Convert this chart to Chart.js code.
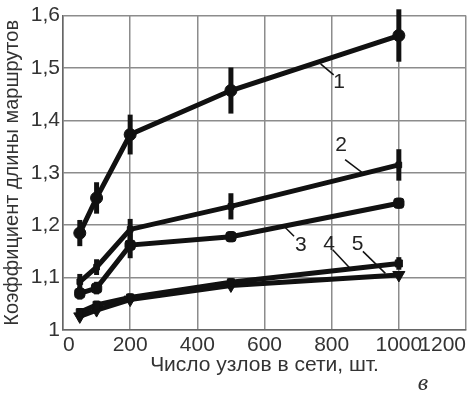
<!DOCTYPE html>
<html>
<head>
<meta charset="utf-8">
<script src="https://cdn.jsdelivr.net/npm/chart.js@4"></script>
<style>
  html, body { margin: 0; padding: 0; background: #fff; }
  #wrap { width: 474px; height: 400px; }
</style>
</head>
<body>
<div id="wrap"><canvas id="chart" width="474" height="400"></canvas></div>
<script>
// число узлов
const nodes = [50, 100, 200, 500, 1000];

// коэффициент длины маршрутов по кривым 1..5
const curve1 = [1.185, 1.252, 1.373, 1.457, 1.562];
const curve2 = [1.092, 1.120, 1.192, 1.236, 1.315];
const curve3 = [1.070, 1.080, 1.162, 1.178, 1.242];
const curve4 = [1.034, 1.048, 1.062, 1.091, 1.127];
const curve5 = [1.026, 1.038, 1.058, 1.085, 1.105];

// разброс (+/-)
const err1 = [0.025, 0.030, 0.038, 0.044, 0.050];
const err2 = [0.015, 0.015, 0.020, 0.025, 0.030];
const err3 = [0.012, 0.012, 0.025, 0.010, 0.008];
const err4 = [0.008, 0.008, 0.008, 0.008, 0.012];
const err5 = [0, 0, 0, 0, 0];

const xTicks = [0, 200, 400, 600, 800, 1000, 1200];
const yTicks = [1, 1.1, 1.2, 1.3, 1.4, 1.5, 1.6];

// номера кривых с выносками (в координатах данных)
const curveLabels = ['1', '2', '3', '4', '5'];
const labelAt = [[822, 1.472], [828, 1.352], [708, 1.162], [792, 1.164], [877, 1.164]];
const leaderFrom = [[767, 1.508], [840, 1.325], [661, 1.196], [803, 1.153], [893, 1.150]];
const leaderTo = [[806, 1.487], [892, 1.300], [688, 1.179], [856, 1.117], [960, 1.108]];

const ink = '#111';
const fontFam = '"Liberation Sans", Arial, sans-serif';

function pts(ys) {
    return nodes.map(function (x, i) { return { x: x, y: ys[i] }; });
}

const errorBars = {
    id: 'errorBars',
    afterDatasetsDraw: function (chart) {
        const ctx = chart.ctx;
        const xs = chart.scales.x, ys = chart.scales.y;
        ctx.save();
        ctx.strokeStyle = ink;
        ctx.lineWidth = 5;
        chart.data.datasets.forEach(function (ds) {
            ds.data.forEach(function (p, i) {
                const e = ds.errors[i];
                if (!e) return;
                const px = xs.getPixelForValue(p.x);
                ctx.beginPath();
                ctx.moveTo(px, ys.getPixelForValue(p.y + e));
                ctx.lineTo(px, ys.getPixelForValue(p.y - e));
                ctx.stroke();
            });
        });
        ctx.restore();
    }
};

const callouts = {
    id: 'callouts',
    afterDraw: function (chart) {
        const ctx = chart.ctx;
        const xs = chart.scales.x, ys = chart.scales.y;
        ctx.save();
        ctx.strokeStyle = ink;
        ctx.lineWidth = 1.5;
        ctx.fillStyle = '#222';
        ctx.font = '21px ' + fontFam;
        ctx.textAlign = 'center';
        ctx.textBaseline = 'middle';
        curveLabels.forEach(function (t, i) {
            ctx.beginPath();
            ctx.moveTo(xs.getPixelForValue(leaderFrom[i][0]), ys.getPixelForValue(leaderFrom[i][1]));
            ctx.lineTo(xs.getPixelForValue(leaderTo[i][0]), ys.getPixelForValue(leaderTo[i][1]));
            ctx.stroke();
            ctx.fillText(t, xs.getPixelForValue(labelAt[i][0]), ys.getPixelForValue(labelAt[i][1]));
        });
        // подпись рисунка
        ctx.font = 'italic 24px "Liberation Serif", serif';
        ctx.fillStyle = '#333';
        ctx.fillText('в', 423, 384);
        ctx.restore();
    }
};

function line(data, errors, style, radius, rot) {
    return {
        data: pts(data),
        errors: errors,
        borderColor: ink,
        backgroundColor: ink,
        borderWidth: 5,
        pointStyle: style,
        pointRadius: radius,
        pointRotation: rot || 0,
        pointBorderWidth: 1,
        tension: 0
    };
}

new Chart(document.getElementById('chart'), {
    type: 'line',
    data: {
        datasets: [
            line(curve1, err1, 'circle', 6),
            line(curve2, err2, 'rect', 4),
            line(curve3, err3, 'rectRounded', 6),
            line(curve4, err4, 'rect', 5),
            line(curve5, err5, 'triangle', 7, 180)
        ]
    },
    options: {
        responsive: false,
        animation: false,
        layout: { padding: { left: 0, right: 6, top: 11, bottom: 22 } },
        plugins: { legend: { display: false }, tooltip: { enabled: false } },
        scales: {
            x: {
                type: 'linear',
                min: 0,
                max: 1200,
                afterBuildTicks: function (s) { s.ticks = xTicks.map(function (v) { return { value: v }; }); },
                afterFit: function (s) { s.height = 48; },
                grid: { color: '#8c8c8c', lineWidth: 1.5, drawTicks: false },
                border: { color: '#666', width: 1.5 },
                ticks: {
                    align: 'inner',
                    padding: 3,
                    color: '#333',
                    font: { family: fontFam, size: 21 },
                    callback: function (v) { return String(v); }
                },
                title: {
                    display: true,
                    text: 'Число узлов в сети, шт.',
                    color: '#333',
                    padding: 0,
                    font: { family: fontFam, size: 21 }
                }
            },
            y: {
                min: 1,
                max: 1.6,
                afterBuildTicks: function (s) { s.ticks = yTicks.map(function (v) { return { value: v }; }); },
                afterFit: function (s) { s.width = 63; },
                grid: { color: '#8c8c8c', lineWidth: 1.5, drawTicks: false },
                border: { color: '#666', width: 1.5 },
                ticks: {
                    padding: 3,
                    color: '#333',
                    font: { family: fontFam, size: 21 },
                    callback: function (v) { return v === 1 ? '1' : v.toFixed(1).replace('.', ','); }
                },
                title: {
                    display: true,
                    text: 'Коэффициент длины маршрутов',
                    color: '#333',
                    padding: 0,
                    font: { family: fontFam, size: 20 }
                }
            }
        }
    },
    plugins: [errorBars, callouts]
});
</script>
</body>
</html>
